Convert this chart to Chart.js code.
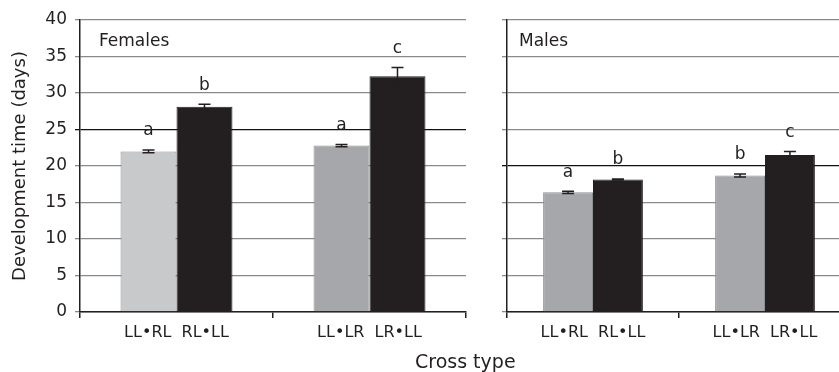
<!DOCTYPE html>
<html>
<head>
<meta charset="utf-8">
<script src="https://cdn.jsdelivr.net/npm/chart.js@4"></script>
<style>
  html, body { margin: 0; padding: 0; background: #fff; overflow: hidden; }
  body { width: 839px; height: 372px; position: relative; font-family: 'DejaVu Sans', sans-serif; }
  .panel { position: absolute; top: 0; height: 372px; }
  #left { left: 0; width: 470px; }
  #right { left: 440px; width: 420px; }
  .xtitle { position: absolute; left: 415px; top: 352px; font-size: 19px; line-height: 19px; color: #231f20; white-space: nowrap; }
</style>
</head>
<body>
<div class="panel" id="left"><canvas id="femChart"></canvas></div>
<div class="panel" id="right"><canvas id="maleChart"></canvas></div>
<div class="xtitle">Cross type</div>
<script>
// cross pairs shown under each group of bars
const crosses = [['LL\u2022RL', 'RL\u2022LL'], ['LL\u2022LR', 'LR\u2022LL']];
const yTicks = [0, 5, 10, 15, 20, 25, 30, 35, 40];

const femaleGray = [22.0, 22.8];
const femaleGrayErr = [0.2, 0.15];
const femaleBlack = [28.1, 32.3];
const femaleBlackErr = [0.35, 1.2];
const femaleGrayLetters = ['a', 'a'];
const femaleBlackLetters = ['b', 'c'];

const maleGray = [16.4, 18.7];
const maleGrayErr = [0.15, 0.2];
const maleBlack = [18.15, 21.5];
const maleBlackErr = [0.08, 0.5];
const maleGrayLetters = ['a', 'b'];
const maleBlackLetters = ['b', 'c'];

const INK = '#231f20';
const FONT = "'DejaVu Sans', sans-serif";

// error bars + significance letters
const errorPlugin = {
  id: 'errorBars',
  afterDatasetsDraw(chart) {
    const ctx = chart.ctx;
    const y = chart.scales.y;
    chart.data.datasets.forEach((ds, i) => {
      const meta = chart.getDatasetMeta(i);
      meta.data.forEach((bar, j) => {
        const v = ds.data[j], e = ds.errors[j];
        const top = y.getPixelForValue(v + e);
        const bot = y.getPixelForValue(v - e);
        ctx.save();
        ctx.strokeStyle = INK;
        ctx.lineWidth = 1.5;
        ctx.beginPath();
        ctx.moveTo(bar.x, top); ctx.lineTo(bar.x, bot);
        ctx.moveTo(bar.x - 6, top); ctx.lineTo(bar.x + 6, top);
        ctx.moveTo(bar.x - 6, bot); ctx.lineTo(bar.x + 6, bot);
        ctx.stroke();
        ctx.fillStyle = INK;
        ctx.font = '17px ' + FONT;
        ctx.textAlign = 'center';
        ctx.textBaseline = 'middle';
        ctx.fillText(ds.letters[j], bar.x, top - 19);
        ctx.restore();
      });
    });
    // panel name
    const a = chart.chartArea;
    ctx.save();
    ctx.fillStyle = INK;
    ctx.font = '17px ' + FONT;
    ctx.textBaseline = 'middle';
    ctx.fillText(chart.options.panelName, a.left + chart.options.nameOffset, 42);
    ctx.restore();
  }
};

function makePanel(id, opts) {
  return new Chart(document.getElementById(id), {
    type: 'bar',
    data: {
      labels: crosses.map(p => p.join('  ')),
      datasets: [
        { data: opts.gray, errors: opts.grayErr, letters: opts.grayLetters,
          backgroundColor: opts.grayColors, borderColor: '#8f9093', borderWidth: 1 },
        { data: opts.black, errors: opts.blackErr, letters: opts.blackLetters,
          backgroundColor: INK, borderColor: INK, borderWidth: 1 }
      ]
    },
    options: {
      panelName: opts.name,
      nameOffset: opts.nameOffset,
      responsive: true,
      maintainAspectRatio: false,
      animation: false,
      layout: { padding: { top: 20, right: opts.padRight, left: 0, bottom: 0 } },
      plugins: { legend: { display: false }, tooltip: { enabled: false } },
      datasets: { bar: { categoryPercentage: 0.58, barPercentage: 1.0 } },
      scales: {
        x: {
          grid: { drawOnChartArea: false, drawTicks: true, tickLength: 6, color: INK, lineWidth: 1.5 },
          border: { color: INK, width: 1.5 },
          ticks: { color: INK, font: { family: FONT, size: 16 }, padding: 5 },
          afterFit: s => { s.height = 60; }
        },
        y: {
          min: 0, max: 40,
          afterBuildTicks: s => { s.ticks = yTicks.map(v => ({ value: v })); },
          grid: {
            color: c => (c.tick && c.tick.value === opts.darkLine) ? '#111' : '#8a8a8a',
            lineWidth: 1.3, tickLength: 5
          },
          border: { color: INK, width: 1.5 },
          ticks: { display: opts.showY, color: INK, font: { family: FONT, size: 17 }, padding: 8 },
          title: {
            display: opts.showY, text: 'Development time (days)',
            color: INK, font: { family: FONT, size: 18 }, padding: { top: 10, bottom: 0 }
          },
          afterFit: s => { s.width = opts.yWidth; }
        }
      }
    },
    plugins: [errorPlugin]
  });
}

makePanel('femChart', {
  name: 'Females', gray: femaleGray, grayErr: femaleGrayErr, grayLetters: femaleGrayLetters,
  black: femaleBlack, blackErr: femaleBlackErr, blackLetters: femaleBlackLetters,
  grayColors: ['#c8c9cb', '#a6a7aa'], showY: true, yWidth: 80, padRight: 4, darkLine: 25, nameOffset: 19
});
makePanel('maleChart', {
  name: 'Males', gray: maleGray, grayErr: maleGrayErr, grayLetters: maleGrayLetters,
  black: maleBlack, blackErr: maleBlackErr, blackLetters: maleBlackLetters,
  grayColors: ['#a6a7aa', '#a6a7aa'], showY: false, yWidth: 67, padRight: 9, darkLine: 20, nameOffset: 12
});
</script>
</body>
</html>
